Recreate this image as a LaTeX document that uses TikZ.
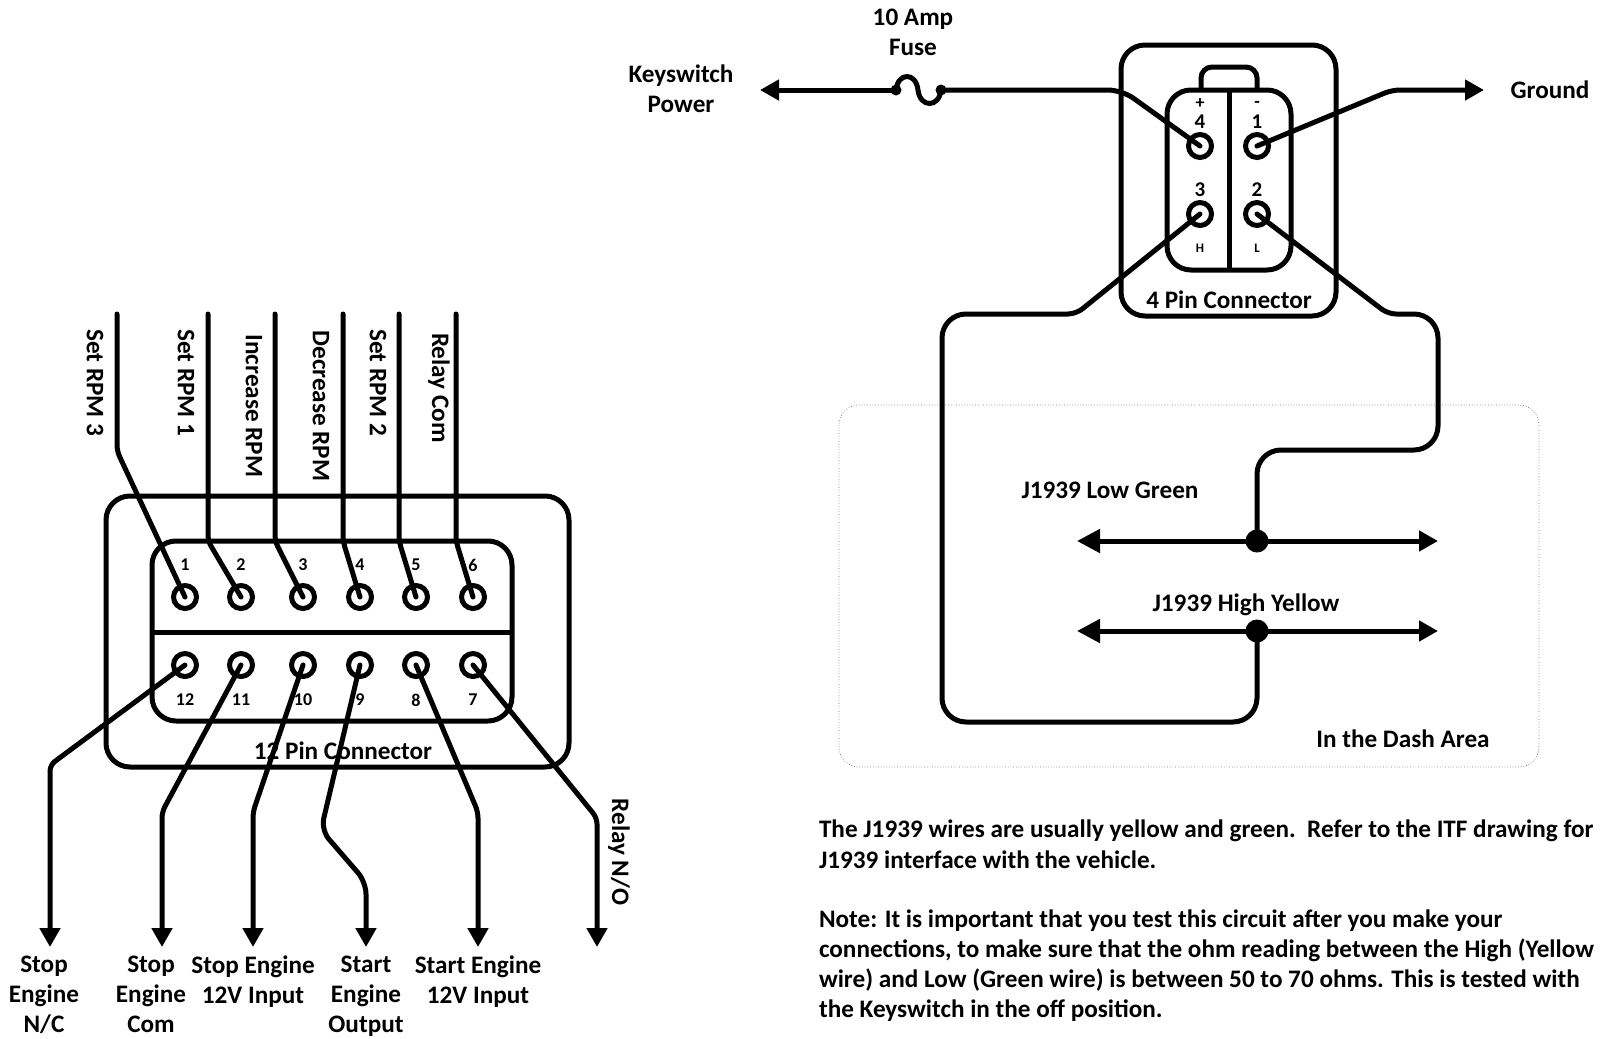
\documentclass[tikz,border=0pt]{standalone}
\usepackage{fontspec}
\setmainfont{Carlito}
\usetikzlibrary{arrows.meta}
\tikzset{
  txt/.style={inner sep=0pt,outer sep=0pt,font=\fontsize{25.2}{30}\selectfont\bfseries,align=center},
  para/.style={txt,anchor=west,align=left},
  side/.style={txt,rotate=-90},
  num/.style={inner sep=0pt,font=\fontsize{18}{20}\selectfont\bfseries},
  tiny/.style={inner sep=0pt,font=\fontsize{13}{15}\selectfont\bfseries},
  big/.style={inner sep=0pt,font=\fontsize{21}{22}\selectfont\bfseries},
  sign/.style={inner sep=0pt,font=\fontsize{18}{19}\selectfont\bfseries},
  box/.style={draw,line width=5pt,rounded corners=24pt},
  pin/.style={circle,draw,line width=5pt,fill=white,minimum size=23pt,inner sep=0pt},
  wire/.style={line width=5pt,line cap=round,rounded corners=6pt},
  wirebig/.style={line width=5pt,line cap=round,rounded corners=24pt},
  tipped/.style={-{Triangle[width=20pt,length=19pt]}},
  dot/.style={circle,fill=black,inner sep=0pt,minimum size=#1},
  area/.style={draw=black!55,line width=0.7pt,dotted,rounded corners=20pt}
}
\begin{document}
\begin{tikzpicture}[x=1pt,y=-1pt]
\useasboundingbox (0,0) rectangle (1610,1039);
% dash area
\draw[area] (839,405) rectangle (1539,767);
% 12 pin connector
\draw[box] (106,496) rectangle (569,767);
\draw[box] (152,541) rectangle (512,721);
\coordinate (divL) at (152,632); \coordinate (divR) at (512,632);
\draw[line width=5pt] (divL) -- (divR);
\node[txt] (lab12) at (343,751) {12 Pin Connector};
\foreach \n/\x/\y in {p1/185/597,p2/241/597,p3/303/597,p4/360/597,p5/416/597,p6/473/597,
  p12/185/665,p11/241/665,p10/303/665,p9/360/665,p8/416/665,p7/473/665}
  \node[pin] (\n) at (\x,\y) {};
\foreach \n/\t/\x/\y in {n1/1/185/565,n2/2/241/565,n3/3/303/565,n4/4/360/565,n5/5/416/565,n6/6/473/565,
  n12/12/185/700,n11/11/241/700,n10/10/303/700,n9/9/360/700,n8/8/416/700,n7/7/473/700}
  \node[num] (\n) at (\x,\y) {\t};
% top wires
\coordinate (t1) at (117,314); \coordinate (t2) at (208,314); \coordinate (t3) at (275,314);
\coordinate (t4) at (343,314); \coordinate (t5) at (399,314); \coordinate (t6) at (456,314);
\draw[wire] (t1) -- (117,451) -- (p1.center);
\draw[wire] (t2) -- (208,541) -- (p2.center);
\draw[wire] (t3) -- (275,541) -- (p3.center);
\draw[wire] (t4) -- (343,541) -- (p4.center);
\draw[wire] (t5) -- (399,541) -- (p5.center);
\draw[wire] (t6) -- (456,541) -- (p6.center);
% bottom wires
\coordinate (b12) at (50,947); \coordinate (b11) at (162,947); \coordinate (b10) at (253,947);
\coordinate (b9) at (366,947); \coordinate (b8) at (478,947); \coordinate (b7) at (597,947);
\draw[wire,tipped] (p12.center) -- (50,765) -- (b12);
\draw[wire,tipped] (p11.center) -- (162,812) -- (b11);
\draw[wire,tipped] (p10.center) -- (253,812) -- (b10);
\draw[wire,rounded corners=12pt,tipped] (p9.center) -- (321,830) -- (366,882) -- (b9);
\draw[wire,tipped] (p8.center) -- (478,812) -- (b8);
\draw[wire,tipped] (p7.center) -- (597,818) -- (b7);
% left labels
\node[side] (s1) at (95,383) {Set RPM 3};
\node[side] (s2) at (186,383) {Set RPM 1};
\node[side] (s3) at (254,406) {Increase RPM};
\node[side] (s4) at (321,406) {Decrease RPM};
\node[side] (s5) at (378,383) {Set RPM 2};
\node[side] (s6) at (439,388) {Relay Com};
\node[side] (s7) at (619,852) {Relay N/O};
\node[txt,anchor=north] (l12) at (44,956) {Stop\\Engine\\N/C};
\node[txt,anchor=north] (l11) at (151,956) {Stop\\Engine\\Com};
\node[txt,anchor=north] (l10) at (253,956) {Stop Engine\\12V Input};
\node[txt,anchor=north] (l9) at (366,956) {Start\\Engine\\Output};
\node[txt,anchor=north] (l8) at (478,956) {Start Engine\\12V Input};
% 4 pin connector
\draw[box] (1121,45) rectangle (1336,316);
\draw[box] (1167,90) rectangle (1291,270);
\coordinate (dT) at (1229,90); \coordinate (dB) at (1229,270);
\draw[line width=5pt] (dT) -- (dB);
\coordinate (tabL) at (1201,90); \coordinate (tabR) at (1257,90);
\draw[line width=5pt,rounded corners=11pt] (tabL) -- (1201,67) -- (1257,67) -- (tabR);
\node[txt] (lab4) at (1229,300) {4 Pin Connector};
\node[pin] (q4) at (1200,146) {};
\node[pin] (q1) at (1257,146) {};
\node[pin] (q3) at (1200,214) {};
\node[pin] (q2) at (1257,214) {};
\node[big] (m4) at (1200,122) {4};
\node[big] (m1) at (1257,122) {1};
\node[big] (m3) at (1200,190) {3};
\node[big] (m2) at (1257,190) {2};
\node[sign] (mp) at (1200,104) {+};
\node[sign] (mm) at (1257,104) {-};
\node[tiny] (mh) at (1200,248) {H};
\node[tiny] (ml) at (1257,248) {L};
% fuse and power
\coordinate (keytip) at (760,90);
\node[dot=11pt] (fl) at (896,90) {};
\node[dot=11pt] (fr) at (941,90) {};
\draw[wire,tipped] (fl.center) -- (keytip);
\draw[line width=5pt,line cap=round] (fl.center) .. controls (898,72) and (916,72) .. (918,90)
   .. controls (920,108) and (939,108) .. (fr.center);
\draw[wire,rounded corners=14pt] (fr.center) -- (1122,90) -- (q4.center);
% ground
\coordinate (gndtip) at (1484,90);
\draw[wire,tipped,rounded corners=8pt] (q1.center) -- (1392,90) -- (gndtip);
\node[txt] (gnd) at (1550,90) {Ground};
\node[txt] (key) at (681,89) {Keyswitch\\Power};
\node[txt] (fuse) at (913,32) {10 Amp\\Fuse};
% bus
\coordinate (lowL) at (1077,541); \coordinate (lowR) at (1438,541);
\coordinate (highL) at (1077,631); \coordinate (highR) at (1438,631);
\node[dot=23pt] (jl) at (1257,541) {};
\node[dot=23pt] (jh) at (1257,631) {};
\draw[line width=5pt,{Triangle[width=23pt,length=23pt]}-{Triangle[width=20pt,length=19pt]}] (lowL) -- (lowR);
\draw[line width=5pt,{Triangle[width=23pt,length=23pt]}-{Triangle[width=20pt,length=19pt]}] (highL) -- (highR);
\draw[wirebig] (q3.center) [rounded corners=8pt] -- (1076,314) [rounded corners=24pt] -- (942,314) -- (942,722) -- (1257,722) -- (jh.center);
\draw[wirebig] (q2.center) [rounded corners=8pt] -- (1388,314) [rounded corners=24pt] -- (1438,314) -- (1438,450) -- (1257,450) -- (jl.center);
\node[txt] (low) at (1110,490) {J1939 Low Green};
\node[txt] (high) at (1246,605) {J1939 High Yellow};
\node[txt] (dash) at (1403,739) {In the Dash Area};
% notes
\node[para] (a1) at (819,831) {The J1939 wires are usually yellow and green.\ \ Refer to the ITF drawing for};
\node[para] (a2) at (819,860) {J1939 interface with the vehicle.};
\node[para] (a3) at (819,921) {Note: It is important that you test this circuit after you make your};
\node[para] (a4) at (819,950) {connections, to make sure that the ohm reading between the High (Yellow};
\node[para] (a5) at (819,980) {wire) and Low (Green wire) is between 50 to 70 ohms. This is tested with};
\node[para] (a6) at (819,1011) {the Keyswitch in the off position.};
\end{tikzpicture}
\end{document}
